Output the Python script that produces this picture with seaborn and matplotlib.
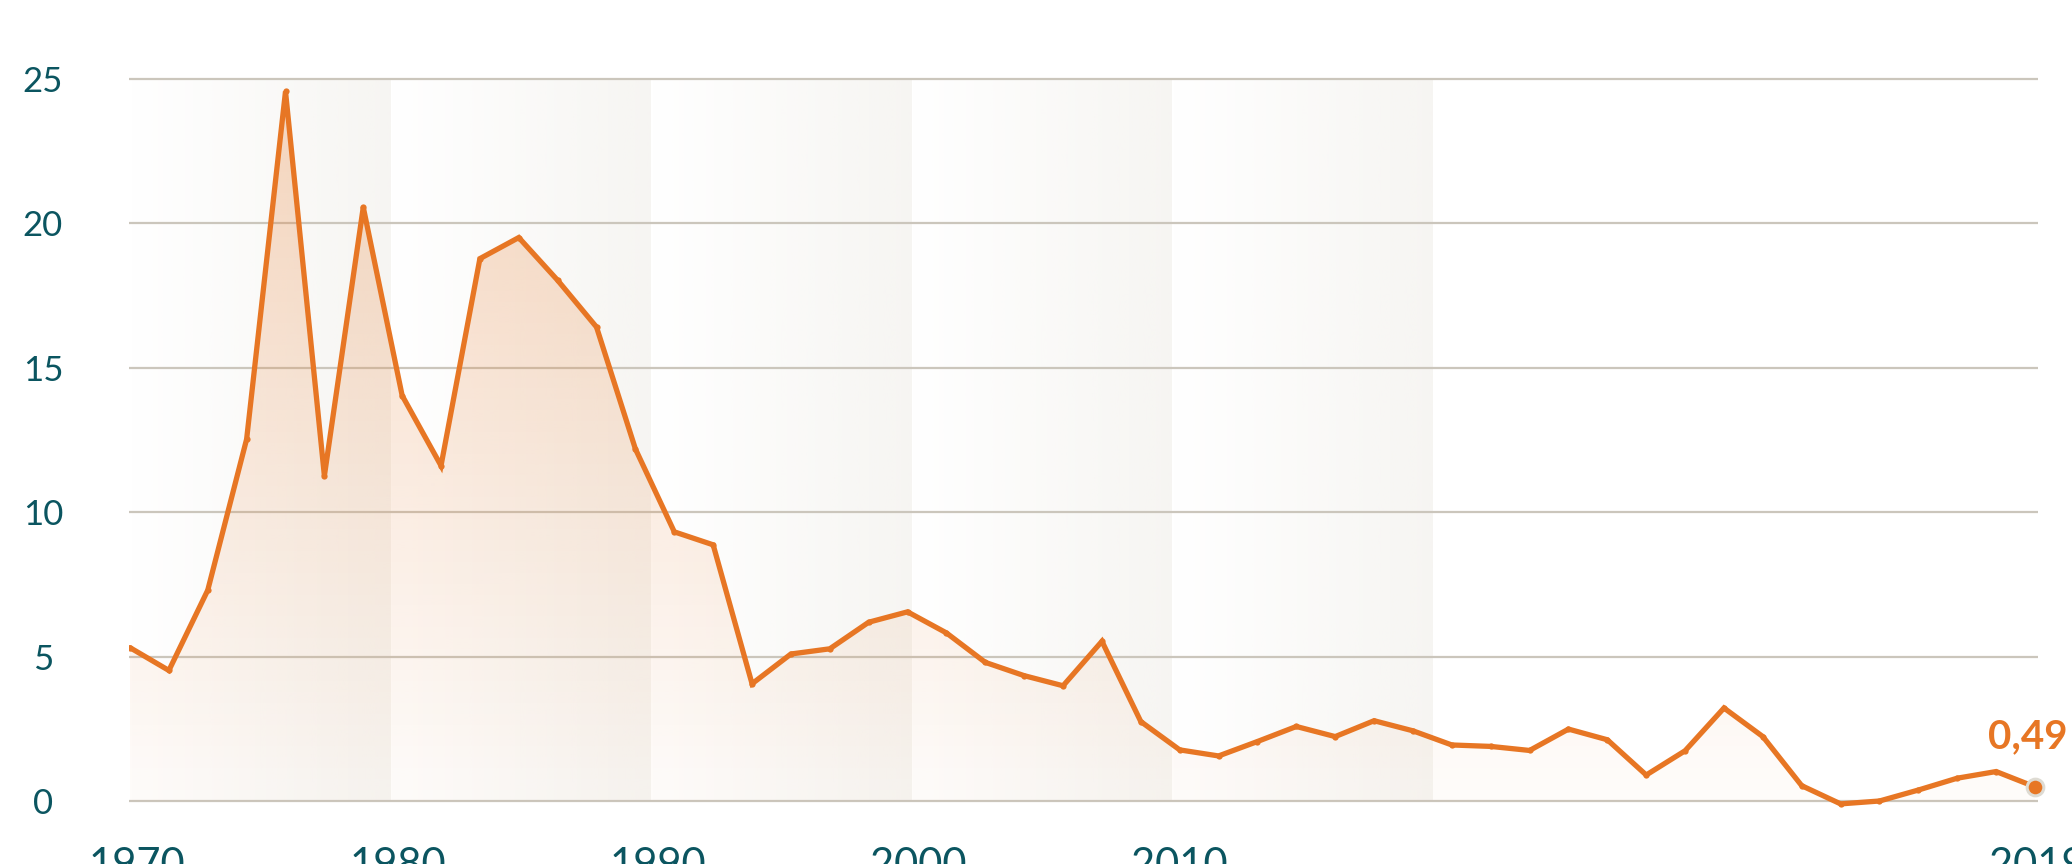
import numpy as np
import pandas as pd
import matplotlib
matplotlib.use('Agg')
import matplotlib.pyplot as plt
from matplotlib.colors import to_rgb
import seaborn as sns

years = list(range(1970, 2020))
values = [5.31, 4.52, 7.30, 12.53, 24.57, 11.26, 20.56, 14.04, 11.61, 18.78,
          19.51, 18.03, 16.41, 12.19, 9.32, 8.87, 4.06, 5.09, 5.27, 6.19,
          6.55, 5.82, 4.80, 4.34, 3.99, 5.53, 2.75, 1.77, 1.56, 2.06,
          2.58, 2.23, 2.78, 2.43, 1.94, 1.89, 1.75, 2.49, 2.12, 0.90,
          1.74, 3.22, 2.23, 0.53, -0.10, 0.00, 0.38, 0.79, 1.02, 0.49]
y_ticks = [0, 5, 10, 15, 20, 25]
x_tick_labels = ['1970', '1980', '1990', '2000', '2010', '2019']

df = pd.DataFrame({'year': years, 'value': values})

orange = '#e77624'
teal = '#0b5560'
grid_col = '#cbc6bc'

sns.set_style('white')
plt.rcParams['font.family'] = ['Lato', 'DejaVu Sans']

fig = plt.figure(figsize=(20.72, 8.64), dpi=100)
# pixel layout: 0 at y=801, 25 at y=79; 1970 at x=130, 2019 at x=2035
px_year = (2035 - 130) / 49
px_unit = (801 - 79) / 25
x0, x1 = 1970 - 1 / px_year, 2019 + 3 / px_year
y0, y1 = -1.0, 26.0
left_px = 130 - (1970 - x0) * px_year
bot_px = 801 + (0 - y0) * px_unit
top_px = 801 - y1 * px_unit
ax = fig.add_axes([left_px / 2072, (864 - bot_px) / 864,
                   (x1 - x0) * px_year / 2072, (bot_px - top_px) / 864])

# background bands, white fading to light grey
band_w = 6.7
band_starts = [1970 + i * band_w for i in range(5)]
hgrad = np.ones((2, 256, 4))
hgrad[..., :3] = to_rgb('#f1efea')
hgrad[..., 3] = np.linspace(0.0, 0.6, 256)[None, :]
for bs in band_starts:
    ax.imshow(hgrad, extent=[bs, bs + band_w, 0, 25], aspect='auto',
              interpolation='bilinear', zorder=0.1)

# gradient area fill under the line
poly = ax.fill_between(df['year'], df['value'], 0, color='none', lw=0)
vgrad = np.ones((256, 2, 4))
vgrad[..., :3] = to_rgb(orange)
vgrad[..., 3] = np.linspace(0.28, 0.02, 256)[:, None]
im = ax.imshow(vgrad, extent=[1970, 2019, 0, 25], aspect='auto',
               interpolation='bilinear', zorder=1)
im.set_clip_path(poly.get_paths()[0], transform=ax.transData)

sns.lineplot(data=df, x='year', y='value', ax=ax, color=orange,
             marker='o', markersize=4.5, markeredgewidth=0, zorder=3)
line = ax.lines[-1]
line.set_linewidth(3.8)
line.set_solid_joinstyle('miter')

# last point
ax.plot(years[-1], values[-1], 'o', color=orange, markersize=12,
        markeredgecolor='#dedbd3', markeredgewidth=2.2, zorder=4, clip_on=False)
ax.annotate(f'{values[-1]:.2f}'.replace('.', ','), xy=(years[-1], values[-1]),
            xytext=(-34, 36), textcoords='offset points', ha='left', va='center',
            fontsize=29, fontweight='bold', color=orange, annotation_clip=False)

ax.set_xlim(x0, x1)
ax.set_ylim(y0, y1)
ax.set_yticks(y_ticks)
ax.set_yticklabels([str(t) for t in y_ticks])
xt = [bs + 0.18 for bs in band_starts] + [years[-1] + 0.05]
ax.set_xticks(xt)
ax.set_xticklabels(x_tick_labels)
ax.set_xlabel('')
ax.set_ylabel('')

ax.grid(axis='y', color=grid_col, lw=1.6)
ax.grid(axis='x', visible=False)
ax.set_axisbelow(True)
for s in ax.spines.values():
    s.set_visible(False)
ax.tick_params(axis='both', length=0, labelcolor=teal)
ax.tick_params(axis='y', pad=62, labelsize=25)
ax.tick_params(axis='x', pad=12, labelsize=30)
for lab in ax.get_yticklabels():
    lab.set_horizontalalignment('center')

fig.savefig('out.png', dpi=100)
